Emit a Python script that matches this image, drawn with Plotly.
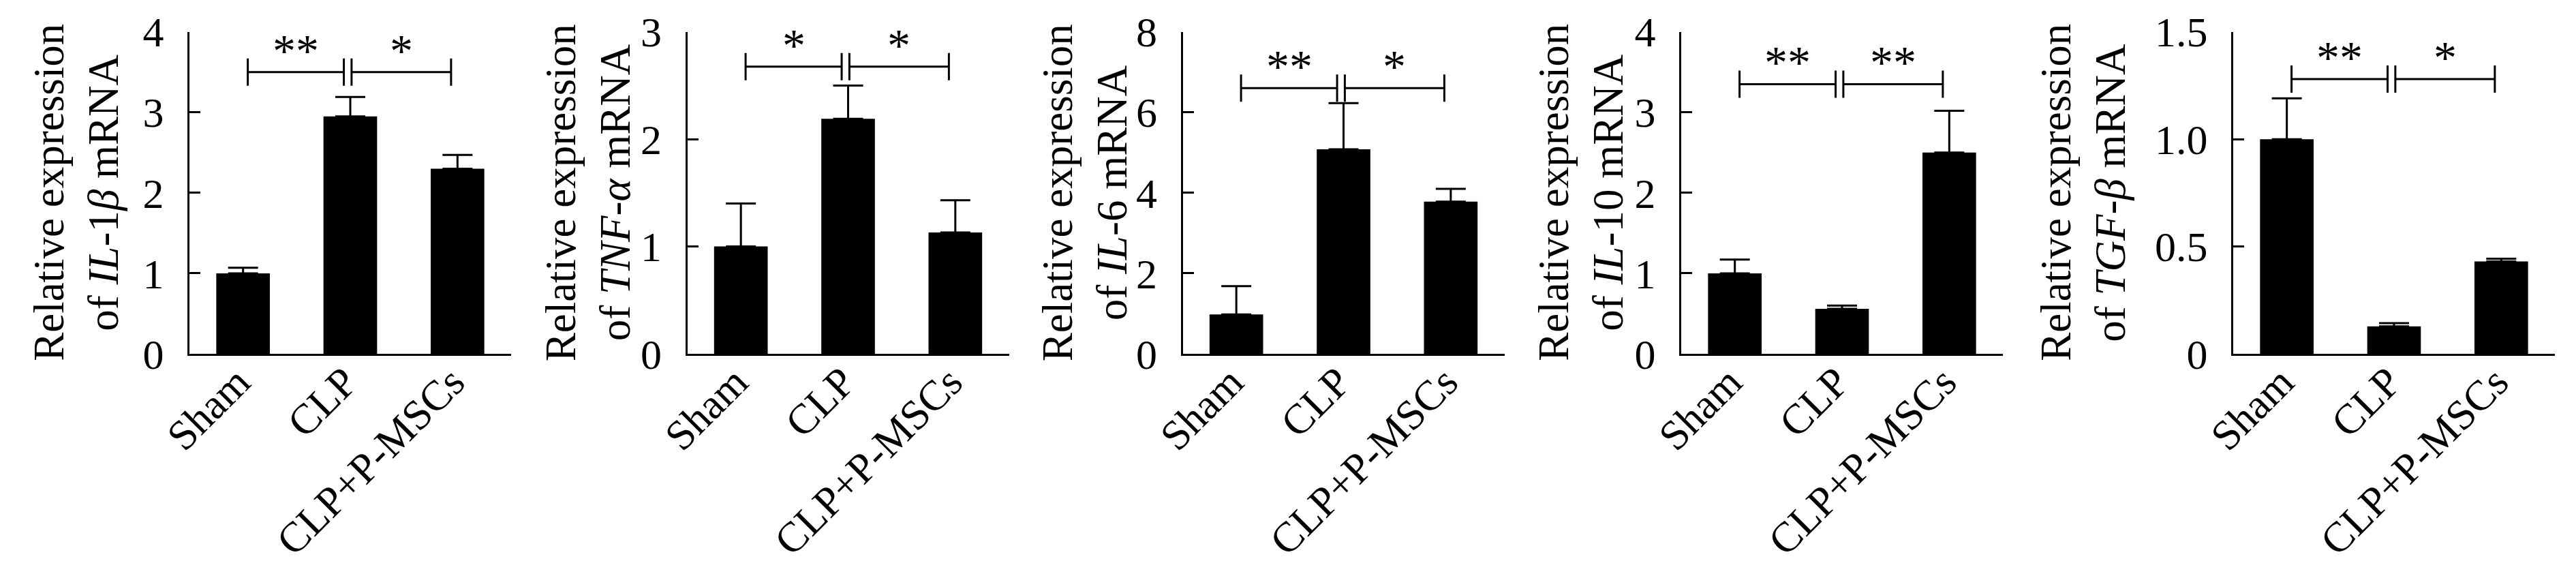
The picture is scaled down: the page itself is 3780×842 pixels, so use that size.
import plotly.graph_objects as go

# group names on the x axis
groups = ["Sham", "CLP", "CLP+P-MSCs"]

# bar heights and upper error (SEM)
il1b_mean = [1.0, 2.95, 2.30]
il1b_err = [0.07, 0.24, 0.17]
tnfa_mean = [1.0, 2.19, 1.13]
tnfa_err = [0.40, 0.31, 0.30]
il6_mean = [0.98, 5.08, 3.78]
il6_err = [0.70, 1.15, 0.32]
il10_mean = [1.0, 0.56, 2.50]
il10_err = [0.17, 0.04, 0.52]
tgfb_mean = [1.0, 0.128, 0.43]
tgfb_err = [0.19, 0.015, 0.013]

# y axes
y_max = [4, 3, 8, 4, 1.5]
y_tickvals = [[0, 1, 2, 3, 4], [0, 1, 2, 3], [0, 2, 4, 6, 8], [0, 1, 2, 3, 4], [0, 0.5, 1.0, 1.5]]
y_ticktext = [["0", "1", "2", "3", "4"], ["0", "1", "2", "3"], ["0", "2", "4", "6", "8"],
              ["0", "1", "2", "3", "4"], ["0", "0.5", "1.0", "1.5"]]

title_line1 = "Relative expression"
title_line2 = ["of <i>IL</i>-1<i>β</i> mRNA", "of <i>TNF</i>-<i>α</i> mRNA", "of <i>IL</i>-6 mRNA",
               "of <i>IL</i>-10 mRNA", "of <i>TGF</i>-<i>β</i> mRNA"]

# significance brackets: Sham vs CLP, CLP vs CLP+P-MSCs
sig_left = ["**", "*", "**", "**", "**"]
sig_right = ["*", "*", "*", "**", "*"]
bracket_level = [3.5, 2.675, 6.6, 3.35, 1.28]

means = [il1b_mean, tnfa_mean, il6_mean, il10_mean, tgfb_mean]
errs = [il1b_err, tnfa_err, il6_err, il10_err, tgfb_err]

W, H = 3780, 842
FONT = "Liberation Serif"
axis_left_px = [270, 1000.5, 1727.5, 2459, 3269]
axis_w_px = 472
title1_off = [206, 186, 184, 187, 260]
title2_off = [126, 106, 104, 107, 180]
ydom = [1 - 511 / H, 1 - 38.7 / H]

fig = go.Figure()
layout = dict(width=W, height=H, margin=dict(l=0, r=0, t=0, b=0),
              paper_bgcolor="white", plot_bgcolor="white", showlegend=False,
              font=dict(family=FONT, size=60, color="black"), template="none")
shapes = []
annotations = []
xs = [0, 1, 2]

for i in range(5):
    n = "" if i == 0 else str(i + 1)
    xa, ya = "x" + n, "y" + n
    fig.add_trace(go.Bar(
        x=xs, y=means[i], xaxis=xa, yaxis=ya, width=0.5,
        marker=dict(color="black", line=dict(width=0)),
        error_y=dict(type="data", array=errs[i], arrayminus=[0, 0, 0], symmetric=False,
                     color="black", thickness=3, width=22),
    ))
    x0 = axis_left_px[i] / W
    layout["xaxis" + n] = dict(
        domain=[x0, x0 + axis_w_px / W], anchor=ya, range=[-0.5, 2.5],
        tickvals=xs, ticktext=groups, tickangle=-45, ticks="",
        showline=True, linecolor="black", linewidth=3, showgrid=False, zeroline=False,
        automargin=False, ticklabelstandoff=-23, ticklabelshift=-8,
        tickfont=dict(size=62, family=FONT),
    )
    layout["yaxis" + n] = dict(
        domain=ydom, anchor=xa, range=[0, y_max[i]],
        tickvals=y_tickvals[i], ticktext=y_ticktext[i],
        ticks="inside", ticklen=16, tickwidth=3, tickcolor="black",
        showline=True, linecolor="black", linewidth=3, showgrid=False, zeroline=False,
        automargin=False, ticklabelstandoff=22, tickfont=dict(size=62, family=FONT),
    )

    # axis titles as two rotated lines
    for txt, off in ((title_line1, title1_off[i]), (title_line2[i], title2_off[i])):
        annotations.append(dict(
            text=txt, xref=xa + " domain", yref=ya + " domain", x=0, y=0.5,
            xanchor="center", yanchor="middle", xshift=-off, textangle=-90,
            showarrow=False, font=dict(size=63, family=FONT, color="black"),
        ))

    # brackets
    lev = bracket_level[i]
    for (a, b), sig in (((0.044, 0.94), sig_left[i]), ((1.012, 1.94), sig_right[i])):
        line = dict(color="black", width=3)
        shapes.append(dict(type="line", xref=xa, yref=ya, x0=a, x1=b, y0=lev, y1=lev, line=line))
        for xx in (a, b):
            shapes.append(dict(type="line", xref=xa, yref=ya, x0=xx, x1=xx,
                               ysizemode="pixel", yanchor=lev, y0=-20, y1=20, line=line))
        annotations.append(dict(
            text=sig, xref=xa, yref=ya, x=(a + b) / 2, y=lev, xanchor="center",
            yanchor="bottom", yshift=-8, showarrow=False,
            font=dict(size=68, family=FONT, color="black"),
        ))

layout["shapes"] = shapes
layout["annotations"] = annotations
fig.update_layout(**layout)
fig.write_html("out.html")
